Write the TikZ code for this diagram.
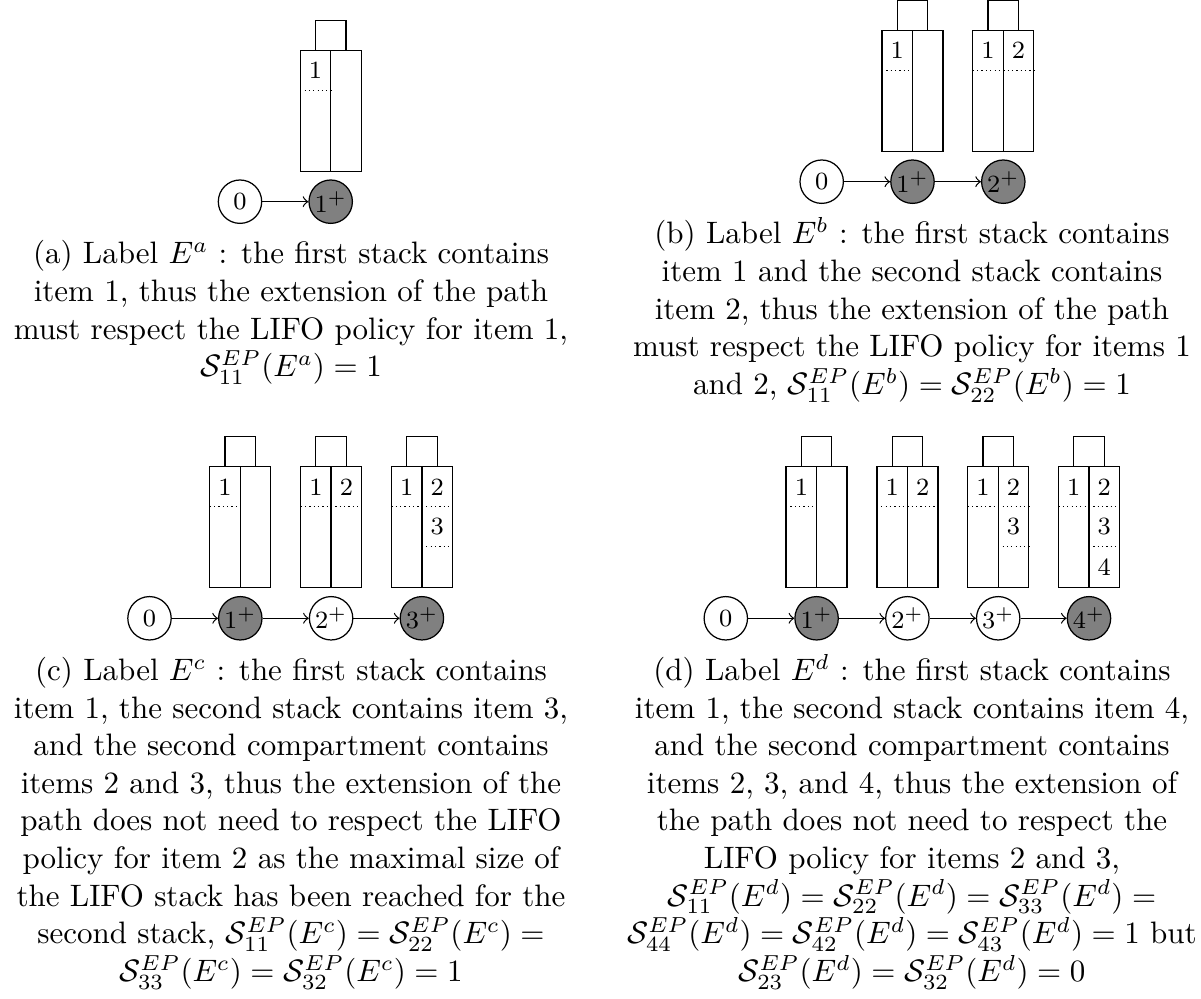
\documentclass[tikz,border=0pt]{standalone}
\usepackage{amsmath}
\begin{document}
\begin{tikzpicture}[x=0.3226pt,y=-0.3226pt,
  st/.style={circle,draw,minimum size=14pt,inner sep=0pt,font=\fontsize{8}{9.6}\selectfont},
  stf/.style={st,fill=gray},
  itm/.style={inner sep=0pt,font=\fontsize{8}{9.6}\selectfont},
  arr/.style={->},
  dot/.style={densely dotted},
  capl/.style={anchor=base,inner sep=0pt,font=\fontsize{10}{12}\selectfont}]
\useasboundingbox (0,0) rectangle (1201,999);
\newcommand\drawstk[2]{%
 \begin{scope}[shift={(#1.center)}]
   \draw (-15.25,-181.5) rectangle (15.25,-151.5);
   \draw (-30.5,-151.5) rectangle (30.5,-30.5);
   \draw (0,-151.5) -- (0,-30.5);
   \node[itm] (#1-i1) at (-15.25,-131.5) {1};
   \draw[dot] (-30.5,-111.5) -- (0,-111.5);
   \ifnum#2>1 \node[itm] (#1-i2) at (15.25,-131.5) {2}; \draw[dot] (0,-111.5) -- (30.5,-111.5);\fi
   \ifnum#2>2 \node[itm] (#1-i3) at (15.25,-91.5) {3}; \draw[dot] (0,-71.5) -- (30.5,-71.5);\fi
   \ifnum#2>3 \node[itm] (#1-i4) at (15.25,-51.5) {4};\fi
 \end{scope}}
% (a)
\node[st] (a0) at (240,201.7) {$0$};
\node[stf] (a1) at (330.7,201.7) {$1^+$};
\draw[arr] (a0) -- (a1);
\drawstk{a1}{1}
% (b)
\node[st] (b0) at (821.7,181.7) {$0$};
\node[stf] (b1) at (912.5,181.7) {$1^+$};
\node[stf] (b2) at (1003.3,181.7) {$2^+$};
\draw[arr] (b0) -- (b1);
\draw[arr] (b1) -- (b2);
\drawstk{b1}{1}
\drawstk{b2}{2}
% (c)
\node[st] (c0) at (149.5,618.3) {$0$};
\node[stf] (c1) at (240.3,618.3) {$1^+$};
\node[st] (c2) at (331.1,618.3) {$2^+$};
\node[stf] (c3) at (421.9,618.3) {$3^+$};
\draw[arr] (c0) -- (c1);
\draw[arr] (c1) -- (c2);
\draw[arr] (c2) -- (c3);
\drawstk{c1}{1}
\drawstk{c2}{2}
\drawstk{c3}{3}
% (d)
\node[st] (d0) at (725.8,618.3) {$0$};
\node[stf] (d1) at (816.6,618.3) {$1^+$};
\node[st] (d2) at (907.4,618.3) {$2^+$};
\node[st] (d3) at (998.2,618.3) {$3^+$};
\node[stf] (d4) at (1089,618.3) {$4^+$};
\draw[arr] (d0) -- (d1);
\draw[arr] (d1) -- (d2);
\draw[arr] (d2) -- (d3);
\draw[arr] (d3) -- (d4);
\drawstk{d1}{1}
\drawstk{d2}{2}
\drawstk{d3}{3}
\drawstk{d4}{4}
% captions
\node[capl] (ta1) at (291,264) {(a) Label $E^a$ : the first stack contains};
\node[capl] (ta2) at (291,301.6) {item 1, thus the extension of the path};
\node[capl] (ta3) at (291,339.2) {must respect the LIFO policy for item 1,};
\node[capl] (ta4) at (291,376.8) {$\mathcal{S}_{11}^{EP}(E^a) = 1$};
\node[capl] (tb1) at (912,244) {(b) Label $E^b$ : the first stack contains};
\node[capl] (tb2) at (912,281.6) {item 1 and the second stack contains};
\node[capl] (tb3) at (912,319.2) {item 2, thus the extension of the path};
\node[capl] (tb4) at (912,356.8) {must respect the LIFO policy for items 1};
\node[capl] (tb5) at (912,394.4) {and 2, $\mathcal{S}_{11}^{EP}(E^b) = \mathcal{S}_{22}^{EP}(E^b) = 1$};
\node[capl] (tc1) at (291,680.6) {(c) Label $E^c$ : the first stack contains};
\node[capl] (tc2) at (291,718.2) {item 1, the second stack contains item 3,};
\node[capl] (tc3) at (291,755.8) {and the second compartment contains};
\node[capl] (tc4) at (291,793.4) {items 2 and 3, thus the extension of the};
\node[capl] (tc5) at (291,831.0) {path does not need to respect the LIFO};
\node[capl] (tc6) at (291,868.6) {policy for item 2 as the maximal size of};
\node[capl] (tc7) at (291,906.2) {the LIFO stack has been reached for the};
\node[capl] (tc8) at (291,943.8) {second stack, $\mathcal{S}_{11}^{EP}(E^c) = \mathcal{S}_{22}^{EP}(E^c) =$};
\node[capl] (tc9) at (291,981.4) {$\mathcal{S}_{33}^{EP}(E^c) = \mathcal{S}_{32}^{EP}(E^c) = 1$};
\node[capl] (td1) at (912,680.6) {(d) Label $E^d$ : the first stack contains};
\node[capl] (td2) at (912,718.2) {item 1, the second stack contains item 4,};
\node[capl] (td3) at (912,755.8) {and the second compartment contains};
\node[capl] (td4) at (912,793.4) {items 2, 3, and 4, thus the extension of};
\node[capl] (td5) at (912,831.0) {the path does not need to respect the};
\node[capl] (td6) at (912,868.6) {LIFO policy for items 2 and 3,};
\node[capl] (td7) at (912,906.2) {$\mathcal{S}_{11}^{EP}(E^d) = \mathcal{S}_{22}^{EP}(E^d) = \mathcal{S}_{33}^{EP}(E^d) =$};
\node[capl] (td8) at (912,943.8) {$\mathcal{S}_{44}^{EP}(E^d) = \mathcal{S}_{42}^{EP}(E^d) = \mathcal{S}_{43}^{EP}(E^d) = 1$ but};
\node[capl] (td9) at (912,981.4) {$\mathcal{S}_{23}^{EP}(E^d) = \mathcal{S}_{32}^{EP}(E^d) = 0$};
\end{tikzpicture}
\end{document}
